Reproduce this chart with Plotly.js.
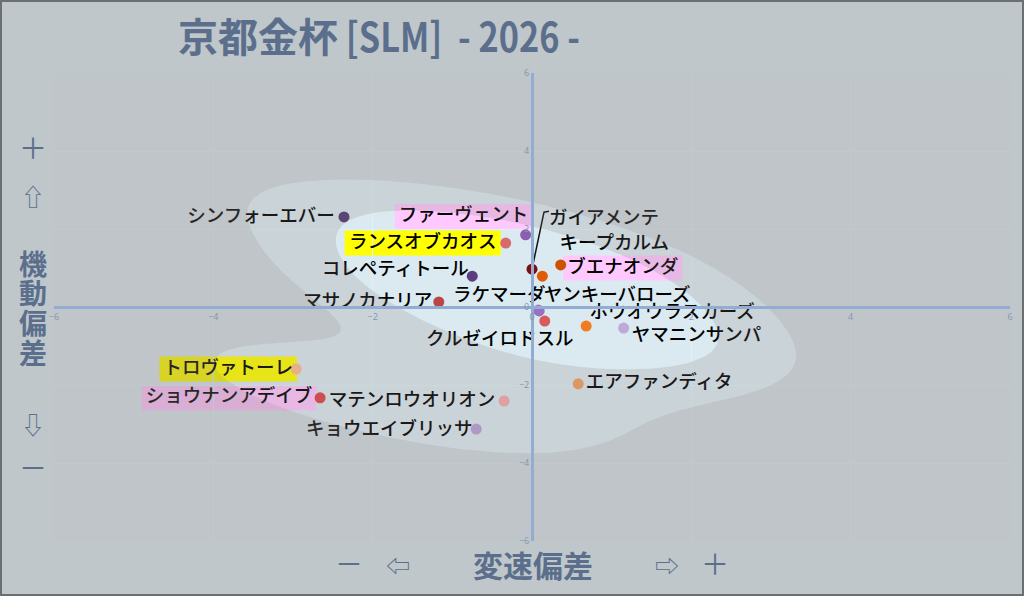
<!DOCTYPE html>
<html>
<head>
<meta charset="utf-8">
<script src="https://cdn.plot.ly/plotly-3.0.1.min.js"></script>
<style>
  body { margin: 0; background: #bfc7ca; }
  #wrap { position: relative; width: 1024px; height: 596px; }
  #chart { width: 1024px; height: 596px; }
  #frame { position: absolute; left: 0; top: 0; width: 1024px; height: 596px; box-sizing: border-box;
           border: 2px solid #6c6e6f; pointer-events: none; }
</style>
</head>
<body>
<div id="wrap"><div id="chart"></div><div id="frame"></div></div>
<script>
// horses and their two scores (x = 変速偏差, y = 機動偏差)
var horses = ['シンフォーエバー', 'ファーヴェント', 'ランスオブカオス', 'ガイアメンテ', 'キープカルム', 'ブエナオンダ',
  'コレペティトール', 'マサノカナリア', 'ラケマーダ', 'ヤンキーバローズ', 'クルゼイロドスル', 'ホウオウラスカーズ',
  'ヤマニンサンパ', 'エアファンディタ', 'トロヴァトーレ', 'ショウナンアデイブ', 'マテンロウオリオン', 'キョウエイブリッサ'];
var hensoku = [-2.36, -0.08, -0.33, 0.00, 0.13, 0.36, -0.75, -1.17, 0.08, 0.09, 0.16, 0.68, 1.15, 0.58, -2.96, -2.66, -0.35, -0.70];
var kidou = [2.31, 1.85, 1.64, 0.97, 0.79, 1.08, 0.79, 0.13, -0.08, -0.10, -0.36, -0.49, -0.54, -1.97, -1.59, -2.33, -2.41, -3.13];
var dotColors = ['#4e3a72', '#8e5cb0', '#d86a6a', '#7a0f12', '#e05a08', '#cc5200', '#5b3c80', '#bb4545', '#a77cc8',
  '#9a70c0', '#d85a5a', '#f07c20', '#c0a8d8', '#f0a060', '#ffbe8c', '#e04444', '#f5aaaa', '#b8a0d8'];
var marks = ['', 'pink', 'yellow', '', '', 'pink', '', '', '', '', '', '', '', '', 'yellow', 'pink', '', ''];

// label placement, pixels from the dot
var labelDx = [-83, -62, -83, 72, 72, 62, -77, -71, -39, 78, -45, 86, 73, 81, -68, -91, -92, -87];
var labelDy = [0, -18, 0, -50, -32, 3, -6, 0, -14, -15, 19, -13, 8, 0, 0, 0, 0, 1];

var pxX = 956 / 12, pxY = 468 / 12;
var markColors = { pink: '#ffc8ff', yellow: '#ffff00' };
var haze = '134,122,119';
var labelFont = 'Noto Sans CJK JP';
var labelSize = 18.5;

var canvas = document.createElement('canvas').getContext('2d');
canvas.font = '500 ' + labelSize + 'px "' + labelFont + '"';

var labX = [], labY = [], shapes = [];
for (var i = 0; i < horses.length; i++) {
  labX.push(hensoku[i] + labelDx[i] / pxX);
  labY.push(kidou[i] - labelDy[i] / pxY);
  if (marks[i]) {
    var w = canvas.measureText(horses[i]).width + 8;
    shapes.push({
      type: 'rect', xref: 'x', yref: 'y', layer: 'below',
      x0: labX[i] - w / 2 / pxX, x1: labX[i] + w / 2 / pxX,
      y0: labY[i] - 12.5 / pxY, y1: labY[i] + 12.5 / pxY,
      fillcolor: markColors[marks[i]], line: { width: 0 }
    });
  }
}

// sparseness of the field (1 - relative density, tilted kernel); the haze is laid over the thin parts
var gx = [], gy = [], z = [];
for (var k = 0; k <= 120; k++) { gx.push(-6 + k * 0.1); gy.push(-6 + k * 0.1); }
var hMajor = 1.9, hMinor = 0.8, tilt = -28 * Math.PI / 180, zmax = 0;
var cu = Math.cos(tilt), su = Math.sin(tilt);
for (var j = 0; j < gy.length; j++) {
  var row = [];
  for (var m = 0; m < gx.length; m++) {
    var s = 0;
    for (var p = 0; p < horses.length; p++) {
      var ex = gx[m] - hensoku[p], ey = gy[j] - kidou[p];
      var a = (ex * cu + ey * su) / hMajor, b = (-ex * su + ey * cu) / hMinor;
      s += Math.exp(-0.5 * (a * a + b * b));
    }
    row.push(s);
    if (s > zmax) zmax = s;
  }
  z.push(row);
}
z = z.map(function (r) { return r.map(function (v) { return 1 - v / zmax; }); });

var gaia = horses.indexOf('ガイアメンテ');
var leader = {
  x: [hensoku[gaia], hensoku[gaia] + 12 / pxX, hensoku[gaia] + 17 / pxX],
  y: [kidou[gaia], kidou[gaia] + 57 / pxY, kidou[gaia] + 58 / pxY],
  mode: 'lines', type: 'scatter', line: { color: '#111', width: 1.5 }, hoverinfo: 'skip'
};

var dots = {
  x: hensoku, y: kidou, mode: 'markers', type: 'scatter',
  marker: { size: 11, color: dotColors }, hoverinfo: 'skip'
};

var names = {
  x: labX, y: labY, mode: 'text', type: 'scatter', text: horses, textposition: 'middle center',
  textfont: { family: labelFont, size: labelSize, color: '#000', weight: 500 }, hoverinfo: 'skip'
};

var hazeLayer = {
  type: 'contour', x: gx, y: gy, z: z, yaxis: 'y2', showscale: false, hoverinfo: 'skip',
  contours: { coloring: 'fill', start: 0.55, end: 0.8, size: 0.25 },
  line: { width: 0, smoothing: 1.3 },
  colorscale: [[0, 'rgba(' + haze + ',0)'], [0.5, 'rgba(' + haze + ',0.2)'], [1, 'rgba(' + haze + ',0.15)']]
};

var blue = '#5b6f8d';
function side(text, px, py, size) {
  return { text: '<b>' + text + '</b>', xref: 'paper', yref: 'paper', x: (px - 54) / 956, y: (541 - py) / 468,
    xanchor: 'center', yanchor: 'middle', showarrow: false,
    font: { family: 'Noto Sans CJK JP, DejaVu Sans', size: size, color: blue } };
}
function thin(text, px, py, size) {
  var a = side(text, px, py, size);
  a.text = text;
  return a;
}

var layout = {
  width: 1024, height: 596,
  margin: { l: 54, r: 14, t: 73, b: 55 },
  paper_bgcolor: '#bfc7ca',
  plot_bgcolor: '#daeaf0',
  showlegend: false,
  hovermode: false,
  title: {
    text: '<b>京都金杯</b><b> [SLM]\u00a0\u00a0- 2026 -</b>',
    font: { family: 'Noto Sans CJK JP', size: 40, color: blue },
    xref: 'container', yref: 'container', x: 178 / 1024, xanchor: 'left', y: 1 - 38 / 596, yanchor: 'middle'
  },
  xaxis: {
    range: [-6, 6], dtick: 2, anchor: 'free', position: 0.5, showline: true, linecolor: '#92acd2', linewidth: 3,
    zeroline: false, gridcolor: '#dff0f6', ticks: '', tickfont: { size: 9, color: '#8496ae' }
  },
  yaxis: {
    range: [-6, 6], dtick: 2, anchor: 'free', position: 0.5, showline: true, linecolor: '#92acd2', linewidth: 3,
    zeroline: false, gridcolor: '#dff0f6', ticks: '', tickfont: { size: 9, color: '#8496ae' }
  },
  yaxis2: { range: [-6, 6], overlaying: 'y', visible: false },
  shapes: shapes,
  annotations: [
    side('変速偏差', 533, 564, 30),
    thin('－', 349, 563, 28), thin('⇦', 398, 564, 24),
    thin('⇨', 667, 564, 24), thin('＋', 715, 563, 28),
    thin('＋', 33, 147, 28), thin('⇧', 33, 195, 24),
    side('機', 33, 263, 28), side('動', 33, 292, 28), side('偏', 33, 322, 28), side('差', 33, 352, 28),
    thin('⇩', 33, 423, 24), thin('－', 33, 467, 28)
  ]
};

Plotly.newPlot('chart', [dots, leader, names, hazeLayer], layout, { staticPlot: true }).then(function () {
  // the latin part of the title is set narrow, as in a condensed face
  var parts = document.querySelectorAll('.gtitle tspan');
  if (parts.length > 1) {
    parts[1].setAttribute('textLength', 242);
    parts[1].setAttribute('lengthAdjust', 'spacingAndGlyphs');
  }
});
</script>
</body>
</html>
